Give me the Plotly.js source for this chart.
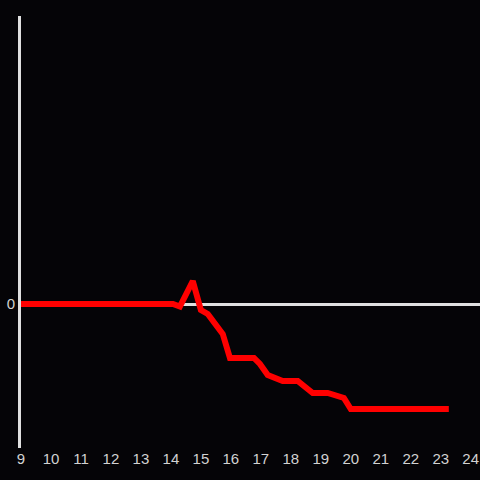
<!DOCTYPE html>
<html>
<head>
<meta charset="utf-8">
<script src="https://cdn.plot.ly/plotly-3.0.1.min.js"></script>
<style>html,body{margin:0;padding:0;background:#050407;}#chart{width:480px;height:480px;}</style>
</head>
<body>
<div id="chart"></div>
<script>
const hours = [9, 14.07, 14.3, 14.73, 15.0, 15.23, 15.73, 15.97, 16.77, 16.97, 17.23, 17.73, 18.23, 18.73, 19.23, 19.77, 20.0, 23.27];
const values = [0, 0, -0.25, 2.3, -0.6, -1.0, -3.0, -5.4, -5.4, -6.0, -7.1, -7.7, -7.7, -8.9, -8.9, -9.4, -10.5, -10.5];
const tickVals = [9,10,11,12,13,14,15,16,17,18,19,20,21,22,23,24];
const tickText = tickVals.map(String);

Plotly.newPlot('chart', [{
  x: hours, y: values, type: 'scatter', mode: 'lines',
  line: {color: '#ff0000', width: 6},
  hoverinfo: 'skip'
}], {
  width: 480, height: 480,
  paper_bgcolor: '#050407', plot_bgcolor: '#050407',
  margin: {l: 21, r: 0, t: 16, b: 32},
  showlegend: false,
  font: {family: 'Liberation Sans, Arial, sans-serif', size: 15, color: '#d2d2d2'},
  xaxis: {range: [9, 24.31], tickvals: tickVals, ticktext: tickText, showgrid: false, zeroline: false, showline: false, ticks: ''},
  yaxis: {range: [-14.4, 28.8], tickvals: [0], ticktext: ['0'], showgrid: false, zeroline: true, zerolinecolor: '#e0e0e0', zerolinewidth: 3, showline: true, linecolor: '#e0e0e0', linewidth: 3, ticks: ''}
}, {staticPlot: true});
</script>
</body>
</html>
